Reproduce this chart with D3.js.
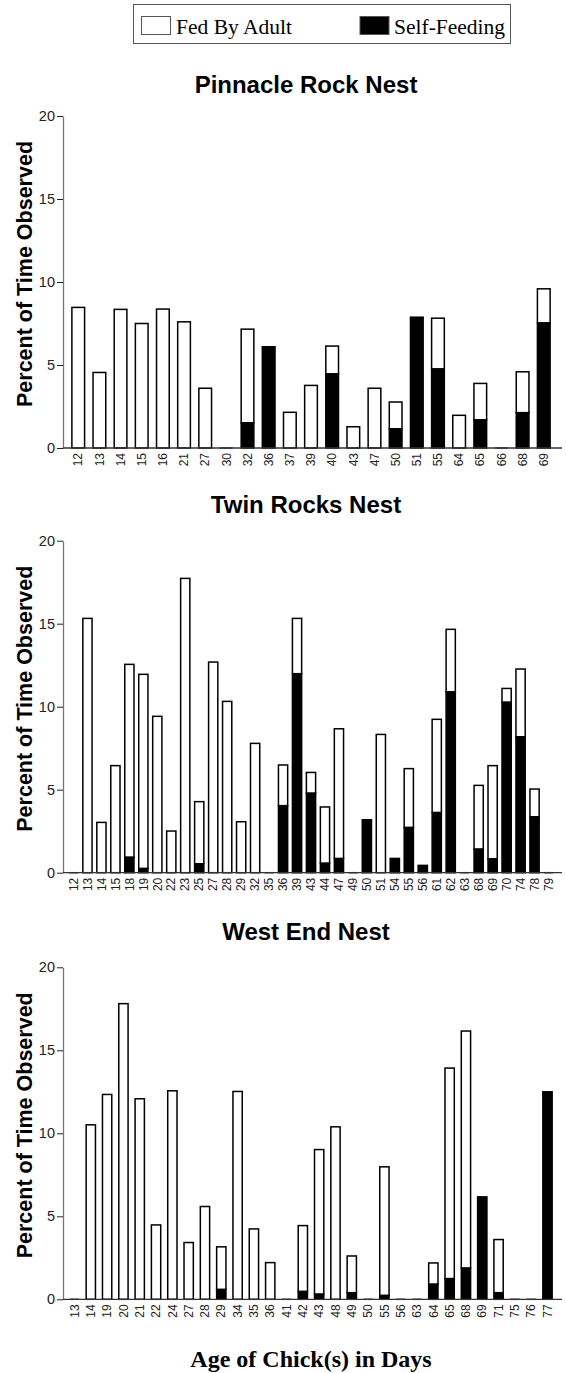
<!DOCTYPE html>
<html>
<head>
<meta charset="utf-8">
<script src="https://cdn.jsdelivr.net/npm/d3@7"></script>
<style>
  body { margin: 0; background: #fff; }
  svg { display: block; }
</style>
</head>
<body>
<svg id="chart" width="566" height="1373"></svg>
<script>
// Pinnacle Rock Nest
var pinnacleDays = ["12","13","14","15","16","21","27","30","32","36","37","39","40","43","47","50","51","55","64","65","66","68","69"];
var pinnacleFed  = [8.47,4.55,8.35,7.5,8.37,7.6,3.6,0,5.64,0,2.15,3.77,1.67,1.28,3.6,1.61,0,3.05,1.97,2.19,0,2.46,2.05];
var pinnacleSelf = [0,0,0,0,0,0,0,0,1.52,6.1,0,0,4.47,0,0,1.16,7.88,4.77,0,1.7,0,2.13,7.54];

// Twin Rocks Nest
var twinDays = ["12","13","14","15","18","19","20","22","23","25","27","28","29","32","35","36","39","43","44","47","49","50","51","54","55","56","61","62","63","68","69","70","74","78","79"];
var twinFed  = [0,15.32,3.03,6.45,11.61,11.69,9.42,2.51,17.73,3.74,12.69,10.32,3.07,7.79,0,2.45,3.33,1.24,3.38,7.81,0,0,8.33,0,3.54,0,5.61,3.76,0,3.83,5.61,0.82,4.08,1.67,0];
var twinSelf = [0,0,0,0,0.94,0.26,0,0,0,0.54,0,0,0,0,0,4.04,11.99,4.8,0.58,0.86,0,3.19,0,0.86,2.73,0.44,3.63,10.9,0,1.43,0.84,10.28,8.19,3.37,0];

// West End Nest
var westDays = ["13","14","19","20","21","22","24","27","28","29","34","35","36","41","42","43","48","49","50","55","56","63","64","65","68","69","71","75","76","77"];
var westFed  = [0,10.51,12.34,17.81,12.08,4.48,12.56,3.42,5.59,2.56,12.52,4.24,2.21,0,3.96,8.7,10.39,2.21,0,7.74,0,0,1.27,12.68,14.27,0,3.2,0,0,0];
var westSelf = [0,0,0,0,0,0,0,0,0,0.6,0,0,0,0,0.48,0.32,0,0.4,0,0.24,0,0,0.92,1.25,1.89,6.17,0.4,0,0,12.5];

var yTicks = [0, 5, 10, 15, 20];
var legendLabels = ["Fed By Adult", "Self-Feeding"];

var panels = [
  { title: "Pinnacle Rock Nest", days: pinnacleDays, fed: pinnacleFed, self: pinnacleSelf, top: 116, titleY: 93, pad: 0.4 },
  { title: "Twin Rocks Nest", days: twinDays, fed: twinFed, self: twinSelf, top: 540.7, titleY: 513, pad: 0.34 },
  { title: "West End Nest", days: westDays, fed: westFed, self: westSelf, top: 967.3, titleY: 940, pad: 0.43 }
];

var sans = "'Liberation Sans', Arial, sans-serif",
    serif = "'Liberation Serif', 'Times New Roman', serif";

var left = 63, right = 559, plotH = 332;

var svg = d3.select("#chart");

// legend
var legend = svg.append("g");
legend.append("rect")
  .attr("x", 133.5).attr("y", 4.5).attr("width", 377).attr("height", 39)
  .attr("fill", "none").attr("stroke", "#555").attr("stroke-width", 1);
[[141.5, "#fff", 176], [360, "#000", 394]].forEach(function(s, i) {
  legend.append("rect")
    .attr("x", s[0]).attr("y", 16.5).attr("width", 29).attr("height", 18)
    .attr("fill", s[1]).attr("stroke", "#555").attr("stroke-width", 1);
  legend.append("text")
    .attr("x", s[2]).attr("y", 34)
    .attr("font-family", serif).attr("font-size", 21.5)
    .text(legendLabels[i]);
});

panels.forEach(function(p) {
  var g = svg.append("g");

  var x = d3.scaleBand().domain(p.days).range([left, right])
    .paddingInner(p.pad).paddingOuter(0.42);
  var y = d3.scaleLinear().domain([0, 20]).range([p.top + plotH, p.top]);

  // title
  g.append("text")
    .attr("x", 306).attr("y", p.titleY)
    .attr("text-anchor", "middle")
    .attr("font-family", sans).attr("font-weight", "bold").attr("font-size", 24)
    .text(p.title);

  // y axis label
  g.append("text")
    .attr("transform", "translate(32," + (p.top + plotH / 2 - 8) + ") rotate(-90)")
    .attr("text-anchor", "middle")
    .attr("font-family", sans).attr("font-weight", "bold").attr("font-size", 21.5)
    .text("Percent of Time Observed");

  // y axis
  var yAxis = g.append("g")
    .attr("transform", "translate(" + left + ",0)")
    .call(d3.axisLeft(y).tickValues(yTicks).tickSize(6).tickPadding(2).tickSizeOuter(0));
  yAxis.select(".domain").attr("stroke", "#777").attr("stroke-width", 1.3);
  yAxis.selectAll(".tick line").attr("stroke", "#222");
  yAxis.selectAll(".tick text")
    .attr("font-family", sans).attr("font-size", 14.5).attr("fill", "#222");

  // bars: self-feeding first, fed stacked on top
  var rows = p.days.map(function(d, i) {
    return { day: d, fed: p.fed[i], self: p.self[i] };
  });

  var bars = g.append("g").selectAll("g").data(rows).join("g");

  bars.filter(function(d) { return d.self > 0; })
    .append("rect")
    .attr("x", function(d) { return x(d.day); })
    .attr("width", x.bandwidth())
    .attr("y", function(d) { return y(d.self); })
    .attr("height", function(d) { return y(0) - y(d.self); })
    .attr("fill", "#000").attr("stroke", "#000").attr("stroke-width", 1.5);

  bars.filter(function(d) { return d.fed > 0; })
    .append("rect")
    .attr("x", function(d) { return x(d.day); })
    .attr("width", x.bandwidth())
    .attr("y", function(d) { return y(d.self + d.fed); })
    .attr("height", function(d) { return y(d.self) - y(d.self + d.fed); })
    .attr("fill", "#fff").attr("stroke", "#000").attr("stroke-width", 1.5);

  bars.filter(function(d) { return d.fed + d.self === 0; })
    .append("line")
    .attr("x1", function(d) { return x(d.day); })
    .attr("x2", function(d) { return x(d.day) + x.bandwidth(); })
    .attr("y1", y(0)).attr("y2", y(0))
    .attr("stroke", "#222").attr("stroke-width", 1.5);

  // x axis
  var xAxis = g.append("g")
    .attr("transform", "translate(0," + y(0) + ")")
    .call(d3.axisBottom(x).tickSize(0).tickSizeOuter(0));
  xAxis.select(".domain").attr("d", "M" + left + ",0H562").attr("stroke", "#333").attr("stroke-width", 1.3);
  xAxis.selectAll(".tick text")
    .attr("font-family", sans).attr("font-size", 12).attr("fill", "#222")
    .attr("text-anchor", "end")
    .attr("transform", "rotate(-90)")
    .attr("x", -5).attr("y", 0).attr("dy", "0.35em");
});

// shared x label
svg.append("text")
  .attr("x", 311).attr("y", 1367)
  .attr("text-anchor", "middle")
  .attr("font-family", serif).attr("font-weight", "bold").attr("font-size", 24)
  .text("Age of Chick(s) in Days");
</script>
</body>
</html>
